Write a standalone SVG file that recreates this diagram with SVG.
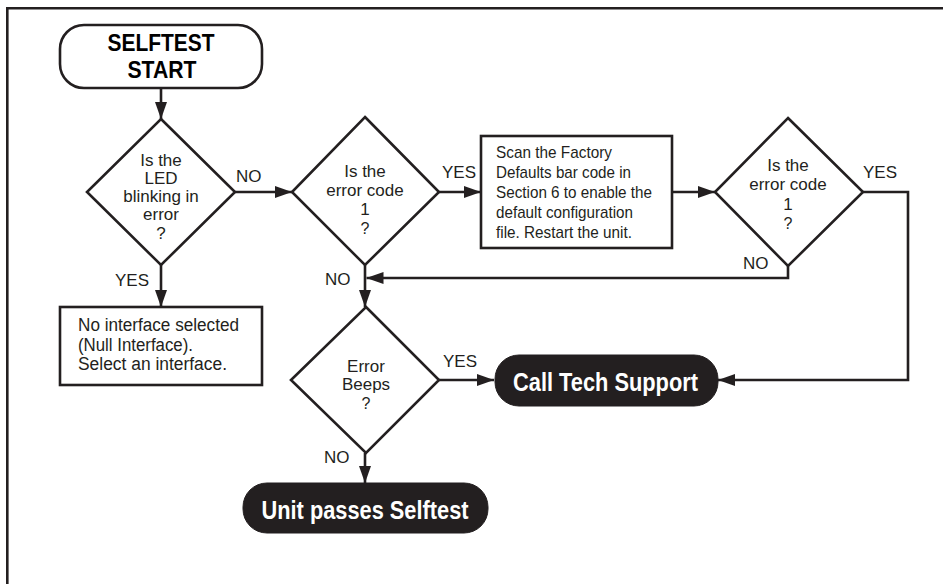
<svg xmlns="http://www.w3.org/2000/svg" width="943" height="584" viewBox="0 0 943 584">
<defs>
<marker id="ah" markerUnits="userSpaceOnUse" markerWidth="17" markerHeight="12" refX="17" refY="6" orient="auto">
<path d="M0,0 L17,6 L0,12 z" fill="#231f20"/>
</marker>
<style>
.sh{fill:#fff;stroke:#231f20;stroke-width:2.6}
.pill{fill:#231f20;stroke:#231f20;stroke-width:1}
.cn{fill:none;stroke:#231f20;stroke-width:2.6}
.ar{marker-end:url(#ah)}
.t{font-family:"Liberation Sans",Arial,sans-serif;font-size:17px;fill:#231f20}
.q{font-size:16px}
.c{text-anchor:middle}
.b{font-family:"Liberation Sans",Arial,sans-serif;font-weight:bold;font-size:25px}
.bw{fill:#fff}
</style>
</defs>
<rect width="943" height="584" fill="#fff"/>
<path d="M7.3,584 V8.3 H943" fill="none" stroke="#231f20" stroke-width="2.6"/>

<g id="connectors">
<path class="cn ar" d="M161,88 V119"/>
<path class="cn ar" d="M235,192 H292"/>
<path class="cn ar" d="M161,265 V307"/>
<path class="cn ar" d="M439,192 H481"/>
<path class="cn ar" d="M672,192 H715"/>
<path class="cn ar" d="M863,192 H908 V380 H718"/>
<path class="cn ar" d="M788,266 V278 H366.5"/>
<path class="cn ar" d="M365,265 V307"/>
<path class="cn ar" d="M439,380 H494"/>
<path class="cn ar" d="M365,453 V483"/>
<g class="t">
<text x="236" y="182">NO</text>
<text x="115" y="286">YES</text>
<text x="442" y="178">YES</text>
<text x="325" y="285">NO</text>
<text x="863" y="178">YES</text>
<text x="743" y="269">NO</text>
<text x="443" y="367">YES</text>
<text x="324" y="463">NO</text>
</g>
</g>

<g id="start">
<rect class="sh" x="60" y="25" width="202" height="63" rx="24"/>
<text class="b c" x="161" y="51" style="font-size:24px" textLength="107" lengthAdjust="spacingAndGlyphs">SELFTEST</text>
<text class="b c" x="162" y="78" style="font-size:24px" textLength="69" lengthAdjust="spacingAndGlyphs">START</text>
</g>

<g id="d-led">
<polygon class="sh" points="161,119 235,192 161,265 87,192"/>
<g class="t c">
<text x="161" y="166">Is the</text>
<text x="161" y="184">LED</text>
<text x="161" y="202">blinking in</text>
<text x="161" y="220">error</text>
<text x="161" y="239">?</text>
</g>
</g>

<g id="null-box">
<rect class="sh" x="60" y="307" width="202" height="78"/>
<g class="t" style="font-size:18px">
<text x="78" y="331" textLength="161" lengthAdjust="spacingAndGlyphs">No interface selected</text>
<text x="78" y="351" textLength="115" lengthAdjust="spacingAndGlyphs">(Null Interface).</text>
<text x="78" y="370" textLength="149" lengthAdjust="spacingAndGlyphs">Select an interface.</text>
</g>
</g>

<g id="d-code1">
<polygon class="sh" points="365,117 439,192 365,265 292,192"/>
<g class="t c">
<text x="365" y="177">Is the</text>
<text x="365" y="196">error code</text>
<text x="365" y="215">1</text>
<text class="q" x="365" y="234">?</text>
</g>
</g>

<g id="factory-box">
<rect class="sh" x="481" y="136" width="191" height="112"/>
<g class="t">
<text x="496" y="158" textLength="116" lengthAdjust="spacingAndGlyphs">Scan the Factory</text>
<text x="496" y="178" textLength="135" lengthAdjust="spacingAndGlyphs">Defaults bar code in</text>
<text x="496" y="198" textLength="156" lengthAdjust="spacingAndGlyphs">Section 6 to enable the</text>
<text x="496" y="218" textLength="137" lengthAdjust="spacingAndGlyphs">default configuration</text>
<text x="496" y="238" textLength="136" lengthAdjust="spacingAndGlyphs">file. Restart the unit.</text>
</g>
</g>

<g id="d-code1b">
<polygon class="sh" points="788,118 863,192 788,266 715,192"/>
<g class="t c">
<text x="788" y="170.5">Is the</text>
<text x="788" y="190">error code</text>
<text x="788" y="209.5">1</text>
<text class="q" x="788" y="228.5">?</text>
</g>
</g>

<g id="d-beeps">
<polygon class="sh" points="366,307 439,380 366,453 291,380"/>
<g class="t c">
<text x="366" y="372">Error</text>
<text x="366" y="390">Beeps</text>
<text class="q" x="366" y="408.5">?</text>
</g>
</g>

<g id="tech-support">
<rect class="pill" x="495" y="355" width="223" height="51" rx="24"/>
<text class="b bw c" x="605.5" y="391" textLength="185" lengthAdjust="spacingAndGlyphs">Call Tech Support</text>
</g>

<g id="passes">
<rect class="pill" x="243" y="483" width="245" height="50" rx="24"/>
<text class="b bw c" x="365" y="519" textLength="207" lengthAdjust="spacingAndGlyphs">Unit passes Selftest</text>
</g>
</svg>
